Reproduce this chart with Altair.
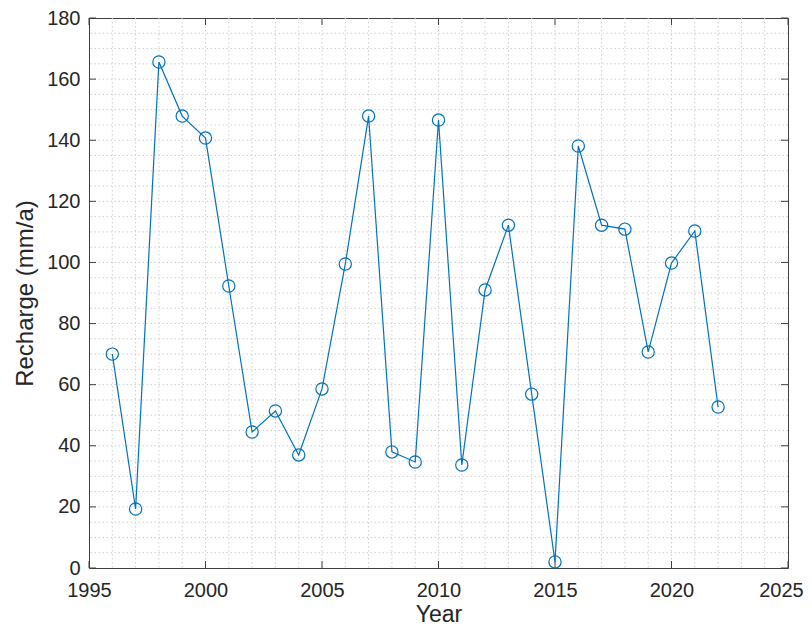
import altair as alt
import pandas as pd

years = list(range(1996, 2023))
recharge = [70.0, 19.3, 165.6, 147.9, 140.7, 92.3, 44.5, 51.4, 37.0, 58.6,
            99.5, 147.9, 38.0, 34.7, 146.6, 33.7, 91.0, 112.2, 56.9, 2.0,
            138.1, 112.2, 110.9, 70.7, 99.8, 110.3, 52.7]

x_major = list(range(1995, 2026, 5))
y_major = list(range(0, 181, 20))
x_minor = list(range(1995, 2026))
y_minor = list(range(0, 181, 5))

W, H = 699, 550
FONT = "Liberation Sans"
AX = "#404040"
TXT = "#262626"
BLUE = "#0072BD"

df = pd.DataFrame({"Year": years, "Recharge": recharge})
xs = alt.Scale(domain=[1995, 2025], nice=False, zero=False)
ys = alt.Scale(domain=[0, 180], nice=False)

xa = alt.Axis(values=x_major, format="d", title="Year", grid=False,
              ticks=False, tickSize=0, domain=False, labelPadding=12,
              titleY=53, titleBaseline="alphabetic", titleFontSize=23, labelFlush=False,
              labelOffset={"condition": {"test": "datum.value == 2025", "value": -7}, "value": 0})
ya = alt.Axis(values=y_major, title="Recharge (mm/a)", grid=False,
              ticks=False, tickSize=0, domain=False, labelPadding=9,
              titlePadding=9, labelFlush=False)

xminor_df = pd.DataFrame({"v": [v for v in x_minor if v not in (1995, 2025)]})
yminor_df = pd.DataFrame({"v": [v for v in y_minor if v not in (0, 180)]})
xmaj_df = pd.DataFrame({"v": x_major})
ymaj_df = pd.DataFrame({"v": y_major})

GRID = dict(color="#cfcfcf", strokeWidth=1, strokeDash=[1.5, 2.5])
grid_x = alt.Chart(xminor_df).mark_rule(**GRID).encode(
    x=alt.X("v:Q", scale=xs, axis=xa))
grid_y = alt.Chart(yminor_df).mark_rule(**GRID).encode(
    y=alt.Y("v:Q", scale=ys, axis=ya))

tick_len = 7
tb = alt.Chart(xmaj_df).mark_rule(color=AX, strokeWidth=1).encode(
    x=alt.X("v:Q", scale=xs, axis=xa), y=alt.value(H), y2=alt.value(H - tick_len))
tt = alt.Chart(xmaj_df).mark_rule(color=AX, strokeWidth=1).encode(
    x=alt.X("v:Q", scale=xs, axis=xa), y=alt.value(0), y2=alt.value(tick_len))
tl = alt.Chart(ymaj_df).mark_rule(color=AX, strokeWidth=1).encode(
    y=alt.Y("v:Q", scale=ys, axis=ya), x=alt.value(0), x2=alt.value(tick_len))
tr = alt.Chart(ymaj_df).mark_rule(color=AX, strokeWidth=1).encode(
    y=alt.Y("v:Q", scale=ys, axis=ya), x=alt.value(W), x2=alt.value(W - tick_len))

base = alt.Chart(df).encode(
    x=alt.X("Year:Q", scale=xs, axis=xa),
    y=alt.Y("Recharge:Q", scale=ys, axis=ya),
)
line = base.mark_line(color=BLUE, strokeWidth=1.2)
pts = base.mark_point(shape="circle", filled=False, color=BLUE, size=150, strokeWidth=1.2, opacity=1)

chart = alt.layer(grid_x, grid_y, tb, tt, tl, tr, line, pts).properties(
    width=W, height=H,
    autosize=alt.AutoSizeParams(type="none"),
    padding={"left": 81, "top": 10, "right": 16, "bottom": 59},
    background="white",
).configure_view(stroke=AX, strokeWidth=1).configure_axis(
    labelFont=FONT, titleFont=FONT, labelFontSize=20, titleFontSize=24,
    labelColor=TXT, titleColor=TXT, titleFontWeight="normal",
)

chart.save("out.html", embed_options={"renderer": "svg", "actions": False})
